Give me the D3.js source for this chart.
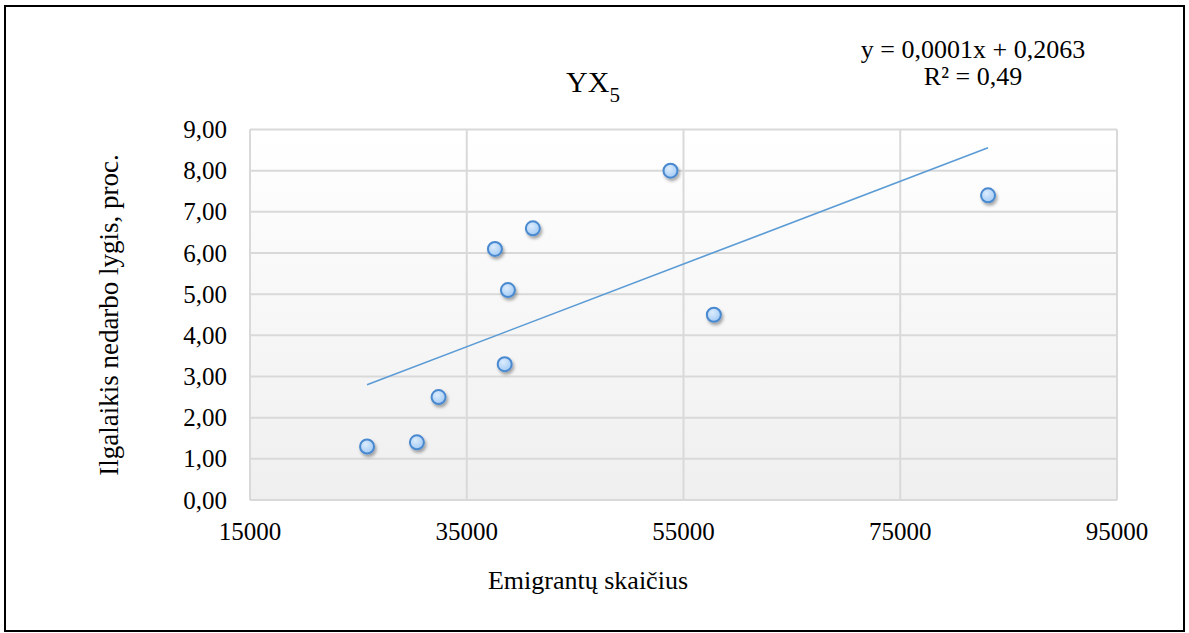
<!DOCTYPE html>
<html><head><meta charset="utf-8">
<script src="https://cdn.jsdelivr.net/npm/d3@7"></script>
<style>body{margin:0;background:#fff}svg text{font-family:"Liberation Serif","Times New Roman",serif;fill:#000}</style>
</head><body><svg id="c" width="1189" height="633"></svg>
<script>
const emigrants = [25800, 30400, 32400, 37600, 38800, 38500, 41100, 53800, 57800, 83100];
const unemployment = [1.3, 1.4, 2.5, 6.1, 5.1, 3.3, 6.6, 8.0, 4.5, 7.4];
const xTicks = [15000, 35000, 55000, 75000, 95000];
const yTicks = [0,1,2,3,4,5,6,7,8,9];
const titleMain = "YX", titleSub = "5";
const xLabel = "Emigrantų skaičius";
const yLabel = "Ilgalaikis nedarbo lygis, proc.";
const eqLines = ["y = 0,0001x + 0,2063", "R² = 0,49"];

const svg = d3.select("#c");
const L=250, R=1117, T=129.5, B=500;
const x = d3.scaleLinear().domain([15000,95000]).range([L,R]);
const y = d3.scaleLinear().domain([0,9]).range([B,T]);

svg.append("rect").attr("x",5).attr("y",6).attr("width",1179).attr("height",625)
  .attr("fill","#fff").attr("stroke","#000").attr("stroke-width",2);

const defs = svg.append("defs");
const g1 = defs.append("linearGradient").attr("id","bg").attr("x1",0).attr("y1",0).attr("x2",0).attr("y2",1);
g1.append("stop").attr("offset",0).attr("stop-color","#ffffff");
g1.append("stop").attr("offset",1).attr("stop-color","#efefef");
const g2 = defs.append("radialGradient").attr("id","pt").attr("cx","40%").attr("cy","35%").attr("r","70%");
g2.append("stop").attr("offset",0).attr("stop-color","#dcecfd");
g2.append("stop").attr("offset",1).attr("stop-color","#9fc8f3");
const f = defs.append("filter").attr("id","sh").attr("x","-50%").attr("y","-50%").attr("width","200%").attr("height","200%");
f.append("feDropShadow").attr("dx",1.5).attr("dy",2.5).attr("stdDeviation",1.8).attr("flood-color","#000").attr("flood-opacity",0.35);

svg.append("rect").attr("x",L).attr("y",T).attr("width",R-L).attr("height",B-T).attr("fill","url(#bg)");

// grid
svg.append("g").selectAll("line").data(yTicks).join("line")
  .attr("x1",L).attr("x2",R).attr("y1",d=>y(d)).attr("y2",d=>y(d))
  .attr("stroke","#d9d9d9").attr("stroke-width",2);
svg.append("g").selectAll("line").data(xTicks).join("line")
  .attr("y1",T).attr("y2",B).attr("x1",d=>x(d)).attr("x2",d=>x(d))
  .attr("stroke","#d9d9d9").attr("stroke-width",2);

// tick labels
const fmtY = d=>d3.format(".2f")(d).replace(".",",");
svg.append("g").selectAll("text").data(yTicks).join("text")
  .attr("x",227).attr("y",d=>y(d)+8.5).attr("text-anchor","end").attr("font-size",25).text(fmtY);
svg.append("g").selectAll("text").data(xTicks).join("text")
  .attr("x",d=>x(d)).attr("y",540).attr("text-anchor","middle").attr("font-size",25).text(d=>d);

// trendline (least squares)
const n = emigrants.length;
const mx = d3.mean(emigrants), my = d3.mean(unemployment);
let sxy=0, sxx=0;
for(let i=0;i<n;i++){sxy+=(emigrants[i]-mx)*(unemployment[i]-my); sxx+=(emigrants[i]-mx)**2;}
const slope = sxy/sxx, icpt = my - slope*mx;
const x0 = d3.min(emigrants), x1 = d3.max(emigrants);
svg.append("line").attr("x1",x(x0)).attr("y1",y(icpt+slope*x0)).attr("x2",x(x1)).attr("y2",y(icpt+slope*x1))
  .attr("stroke","#5b9bd5").attr("stroke-width",1.6);

// points
svg.append("g").selectAll("circle").data(emigrants).join("circle")
  .attr("cx",d=>x(d)).attr("cy",(d,i)=>y(unemployment[i])).attr("r",7)
  .attr("fill","url(#pt)").attr("stroke","#4a89cf").attr("stroke-width",2).attr("filter","url(#sh)");

// title
const t = svg.append("text").attr("x",593).attr("y",92).attr("text-anchor","middle").attr("font-size",30);
t.append("tspan").text(titleMain);
t.append("tspan").attr("font-size",21).attr("dy",10).text(titleSub);

svg.append("text").attr("x",588).attr("y",589).attr("text-anchor","middle").attr("font-size",26).text(xLabel);
svg.append("text").attr("transform","translate(118,315) rotate(-90)").attr("text-anchor","middle").attr("font-size",27).text(yLabel);

svg.append("g").selectAll("text").data(eqLines).join("text")
  .attr("x",973).attr("y",(d,i)=>58+i*27).attr("text-anchor","middle").attr("font-size",26).text(d=>d);
</script></body></html>
